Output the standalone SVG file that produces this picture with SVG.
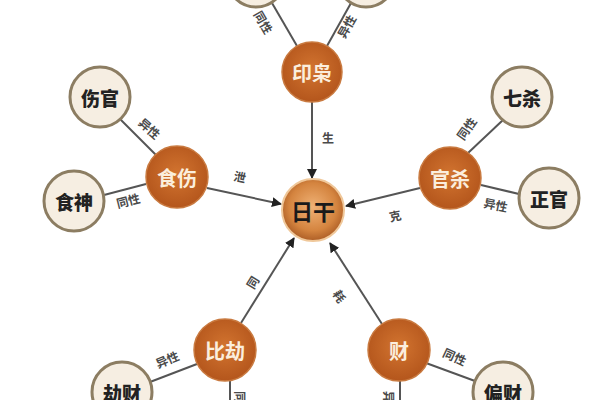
<svg xmlns="http://www.w3.org/2000/svg" width="600" height="400" viewBox="0 0 600 400">
<defs>
<radialGradient id="og" cx="50%" cy="45%" r="55%">
<stop offset="0%" stop-color="#d27430"/>
<stop offset="100%" stop-color="#b4561c"/>
</radialGradient>
<radialGradient id="cg" cx="50%" cy="45%" r="55%">
<stop offset="0%" stop-color="#f0b276"/>
<stop offset="70%" stop-color="#d4843f"/>
<stop offset="100%" stop-color="#ad5e26"/>
</radialGradient>
<marker id="ah" viewBox="0 0 10 10" refX="9" refY="5" markerWidth="10" markerHeight="10" markerUnits="userSpaceOnUse" orient="auto">
<path d="M0,0 L10,5 L0,10 z" fill="#222"/>
</marker>
<style>
.leaf circle{fill:#f6eee2;stroke:#8c7d62;stroke-width:3}
.leaf text{font-family:"Noto Sans CJK SC",sans-serif;font-weight:900;font-size:19px;fill:#222;text-anchor:middle;dominant-baseline:central}
.hub circle{fill:url(#og);stroke:#c97a40;stroke-width:1.5}
.hub text{font-family:"Noto Sans CJK SC",sans-serif;font-weight:700;font-size:20px;fill:#fbeedd;text-anchor:middle;dominant-baseline:central}
.edge line{stroke:#555;stroke-width:2}
.edge line.arr{marker-end:url(#ah)}
.lbl{font-family:"Noto Sans CJK SC",sans-serif;font-weight:700;font-size:12px;fill:#4a4a4a;text-anchor:middle;dominant-baseline:central}
</style>
</defs>
<rect width="600" height="400" fill="#fff"/>
<g id="connectors" class="edge">
<line class="arr" x1="312" y1="102" x2="312" y2="178"/>
<line class="arr" x1="207" y1="188" x2="281" y2="204"/>
<line class="arr" x1="420" y1="188" x2="346" y2="206"/>
<line class="arr" x1="241" y1="323" x2="294" y2="238"/>
<line class="arr" x1="382" y1="324" x2="330" y2="243"/>
<line x1="297" y1="46" x2="272" y2="3"/>
<line x1="327" y1="46" x2="351" y2="3"/>
<line x1="156" y1="155" x2="120" y2="119"/>
<line x1="146" y1="184" x2="104" y2="195"/>
<line x1="468" y1="153" x2="503" y2="120"/>
<line x1="481" y1="185" x2="519" y2="194"/>
<line x1="197" y1="364" x2="150" y2="382"/>
<line x1="230" y1="381" x2="230" y2="400"/>
<line x1="426" y1="363" x2="475" y2="381"/>
<line x1="400" y1="381" x2="400" y2="400"/>
<text class="lbl" x="328" y="137">生</text>
<text class="lbl" transform="translate(240,176) rotate(12)">泄</text>
<text class="lbl" transform="translate(395,215) rotate(-12)">克</text>
<text class="lbl" transform="translate(252,282) rotate(-58)">同</text>
<text class="lbl" transform="translate(340,296) rotate(58)">耗</text>
<text class="lbl" transform="translate(264,22) rotate(60)">同性</text>
<text class="lbl" transform="translate(346,26) rotate(-60)">异性</text>
<text class="lbl" transform="translate(150,128) rotate(42)">异性</text>
<text class="lbl" transform="translate(128,200) rotate(-14)">同性</text>
<text class="lbl" transform="translate(466,128) rotate(-55)">同性</text>
<text class="lbl" transform="translate(496,204) rotate(12)">异性</text>
<text class="lbl" transform="translate(167,359) rotate(-22)">异性</text>
<text class="lbl" transform="translate(455,356) rotate(25)">同性</text>
<text class="lbl" transform="translate(240,403) rotate(90)">同性</text>
<text class="lbl" transform="translate(389,403) rotate(90)">异性</text>
</g>
<g id="riGan">
<circle cx="313" cy="210" r="31" fill="url(#cg)" stroke="#f0c89a" stroke-width="2"/>
<text x="313" y="210" font-family="Noto Sans CJK SC,sans-serif" font-weight="700" font-size="22" fill="#1a1a1a" text-anchor="middle" dominant-baseline="central">日干</text>
</g>
<g id="yinXiao" class="hub"><circle cx="312" cy="72" r="30"/><text x="312" y="72">印枭</text></g>
<g id="shiShang" class="hub"><circle cx="177" cy="177" r="31"/><text x="177" y="177">食伤</text></g>
<g id="guanSha" class="hub"><circle cx="450" cy="178" r="31"/><text x="450" y="178">官杀</text></g>
<g id="biJie" class="hub"><circle cx="225" cy="350" r="31"/><text x="225" y="350">比劫</text></g>
<g id="cai" class="hub"><circle cx="399" cy="350" r="31"/><text x="399" y="350">财</text></g>
<g id="topLeft" class="leaf"><circle cx="256" cy="-22" r="29"/></g>
<g id="topRight" class="leaf"><circle cx="366" cy="-22" r="29"/></g>
<g id="shangGuan" class="leaf"><circle cx="100" cy="97" r="30"/><text x="100" y="97">伤官</text></g>
<g id="shiShen" class="leaf"><circle cx="74" cy="201" r="30"/><text x="74" y="201">食神</text></g>
<g id="qiSha" class="leaf"><circle cx="522" cy="97" r="30"/><text x="522" y="97">七杀</text></g>
<g id="zhengGuan" class="leaf"><circle cx="549" cy="198" r="30"/><text x="549" y="198">正官</text></g>
<g id="jieCai" class="leaf"><circle cx="122" cy="392" r="30"/><text x="122" y="392">劫财</text></g>
<g id="pianCai" class="leaf"><circle cx="503" cy="392" r="30"/><text x="503" y="392">偏财</text></g>
</svg>
